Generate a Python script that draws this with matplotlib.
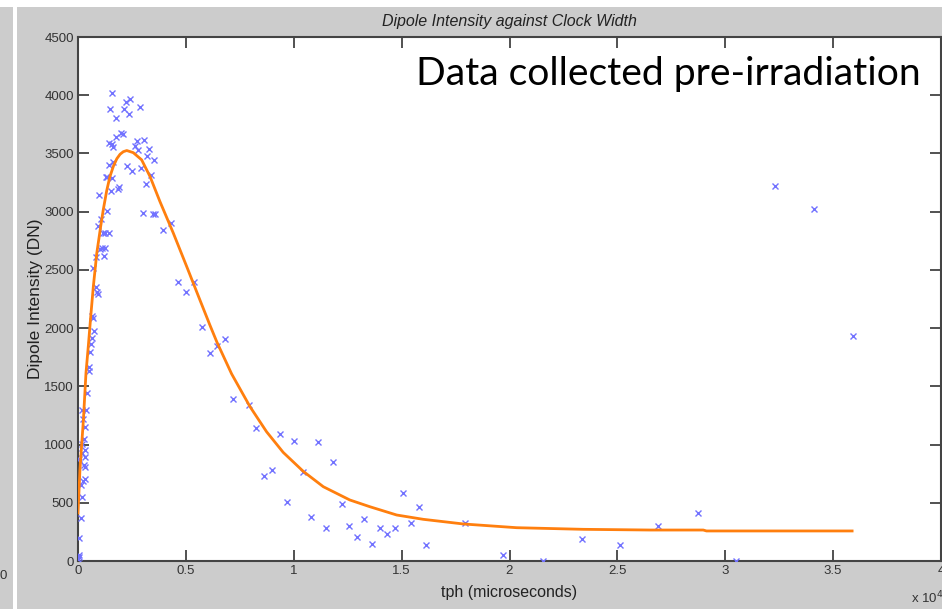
import matplotlib
matplotlib.use("Agg")
import matplotlib.pyplot as plt
from matplotlib.patches import Rectangle

# measured points: tph in units of 1e4 microseconds, intensity in DN
tph = [0.159, 0.148, 0.176, 0.213, 0.222, 0.241, 0.236, 0.287, 0.199, 0.209,
       0.176, 0.145, 0.156, 0.164, 0.273, 0.306, 0.266, 0.280, 0.330, 0.321,
       0.352, 0.164, 0.145, 0.226, 0.249, 0.290, 0.338, 0.128, 0.136, 0.156,
       0.315, 0.153, 0.185, 0.190, 0.099, 0.300, 0.346, 0.357, 0.431, 0.392,
       0.133, 0.107, 0.091, 0.117, 0.125, 0.144, 0.102, 0.110, 0.125, 0.120,
       0.082, 0.070, 0.465, 0.538, 0.500, 0.082, 0.087, 0.092, 0.063, 0.068,
       0.573, 0.681, 0.644, 0.612,
       0.074, 0.065, 0.060, 0.056, 0.050, 0.052, 0.043, 0.020, 0.037, 0.025,
       0.034, 0.028, 0.020, 0.031, 0.019, 0.034, 0.003, 0.026, 0.031, 0.031,
       0.022, 0.015, 0.019, 0.012, 0.006, 0.003, 0.006, 0.002,
       0.718, 0.792, 0.823, 0.935, 1.003, 1.111, 1.183, 0.860, 0.897, 1.041,
       0.967, 1.078, 1.148, 1.222, 1.257, 1.291, 1.327, 1.364, 1.401, 1.434,
       1.470, 1.508, 1.545, 1.582, 1.613, 1.792, 1.970, 2.155, 2.334, 2.513,
       2.690, 2.872, 3.050, 3.231, 3.412, 3.591]
intensity = [4023, 3883, 3808, 3883, 3943, 3971, 3842, 3903, 3679, 3665,
             3645, 3588, 3582, 3559, 3610, 3616, 3568, 3530, 3539, 3479,
             3445, 3430, 3402, 3396, 3353, 3373, 3316, 3296, 3296, 3293,
             3238, 3178, 3195, 3215, 3144, 2992, 2978, 2978, 2906, 2843,
             3009, 2935, 2880, 2820, 2820, 2820, 2680, 2686, 2686, 2623,
             2614, 2520, 2399, 2399, 2308, 2351, 2311, 2294, 2105, 2085,
             2013, 1907, 1849, 1789,
             1978, 1918, 1861, 1793, 1669, 1632, 1440, 1297, 1297, 1220,
             1148, 1048, 1005, 953, 925, 891, 876, 825, 810, 702,
             690, 653, 552, 372, 195, 52, 37, 20,
             1392, 1340, 1145, 1094, 1033, 1025, 853, 733, 784, 767,
             509, 381, 286, 492, 303, 209, 363, 149, 281, 235,
             286, 587, 329, 467, 135, 324, 50, 0, 192, 140,
             303, 415, 0, 3224, 3024, 1935]

# fitted curve
fit_x = [0.0, 0.009, 0.025, 0.037, 0.048, 0.059, 0.071, 0.087, 0.105, 0.117,
         0.133, 0.148, 0.164, 0.180, 0.195, 0.210, 0.226, 0.256, 0.295, 0.334,
         0.380, 0.442, 0.504, 0.565, 0.612, 0.644, 0.712, 0.797, 0.874, 0.951,
         1.044, 1.137, 1.260, 1.353, 1.477, 1.600, 1.786, 2.033, 2.342, 2.651,
         2.898, 2.913, 3.588]
fit_y = [412, 782, 1211, 1615, 1850, 2099, 2356, 2643, 2872, 3015,
         3180, 3301, 3390, 3455, 3493, 3515, 3525, 3507, 3445, 3301,
         3086, 2815, 2528, 2242, 2023, 1879, 1607, 1326, 1110, 933,
         770, 638, 524, 466, 395, 358, 318, 286, 272, 266,
         266, 258, 258]

x_ticks = [0, 0.5, 1, 1.5, 2, 2.5, 3, 3.5, 4]
x_labels = ["0", "0.5", "1", "1.5", "2", "2.5", "3", "3.5", "4"]
y_ticks = [0, 500, 1000, 1500, 2000, 2500, 3000, 3500, 4000, 4500]

W, H = 942, 609
fig = plt.figure(figsize=(W / 100, H / 100), dpi=100)
fig.patch.set_facecolor("white")
gray = "#cccccc"
# screenshot background: matlab figure plus a sliver of a neighbouring one
fig.patches.append(Rectangle((17 / W, 0), 1, 1 - 7 / H, transform=fig.transFigure,
                             facecolor=gray, edgecolor="none", zorder=-5))
fig.patches.append(Rectangle((0, 0), 13 / W, 1 - 7 / H, transform=fig.transFigure,
                             facecolor=gray, edgecolor="none", zorder=-5))
fig.text(0 / W, 1 - 576 / H, "0", fontsize=9.5, family="Liberation Sans",
         color="#333333", va="center", ha="left")

ax = fig.add_axes([78 / W, 48 / H, 863 / W, 524 / H])
ax.set_facecolor("white")
ax.plot(tph, intensity, linestyle="none", marker="x", markersize=4.5,
        markeredgewidth=1.0, color="#7272ff", zorder=3)
ax.plot(fit_x, fit_y, color="#ff7f0e", linewidth=2.0, zorder=4)

ax.set_xlim(0, 4)
ax.set_ylim(0, 4500)
ax.set_xticks(x_ticks)
ax.set_xticklabels(x_labels)
ax.set_yticks(y_ticks)
ax.tick_params(direction="in", length=8, width=1.2, colors="#333333",
               labelsize=9.5, top=True, right=True, pad=3)
for s in ax.spines.values():
    s.set_color("#444444")
    s.set_linewidth(1.5)
for lab in ax.get_xticklabels() + ax.get_yticklabels():
    lab.set_family("Liberation Sans")

ax.set_title("Dipole Intensity against Clock Width", fontsize=11.5,
             style="italic", family="Liberation Sans", color="#222222", pad=8)
ax.set_xlabel("tph (microseconds)", fontsize=11.5, family="Liberation Sans",
              color="#222222", labelpad=6)
ax.set_ylabel("Dipole Intensity (DN)", fontsize=12.5, family="Liberation Sans",
              color="#222222", labelpad=1)
fig.text(911 / W, 1 - 598 / H, "x 10$^4$", fontsize=9.5, family="Liberation Sans",
         color="#333333", va="center", ha="left")

ax.text(0.976, 0.93, "Data collected pre-irradiation", transform=ax.transAxes,
        fontsize=28.2, family="Lato", color="black", ha="right", va="center")

fig.savefig("out.png", dpi=100, facecolor=fig.get_facecolor())
